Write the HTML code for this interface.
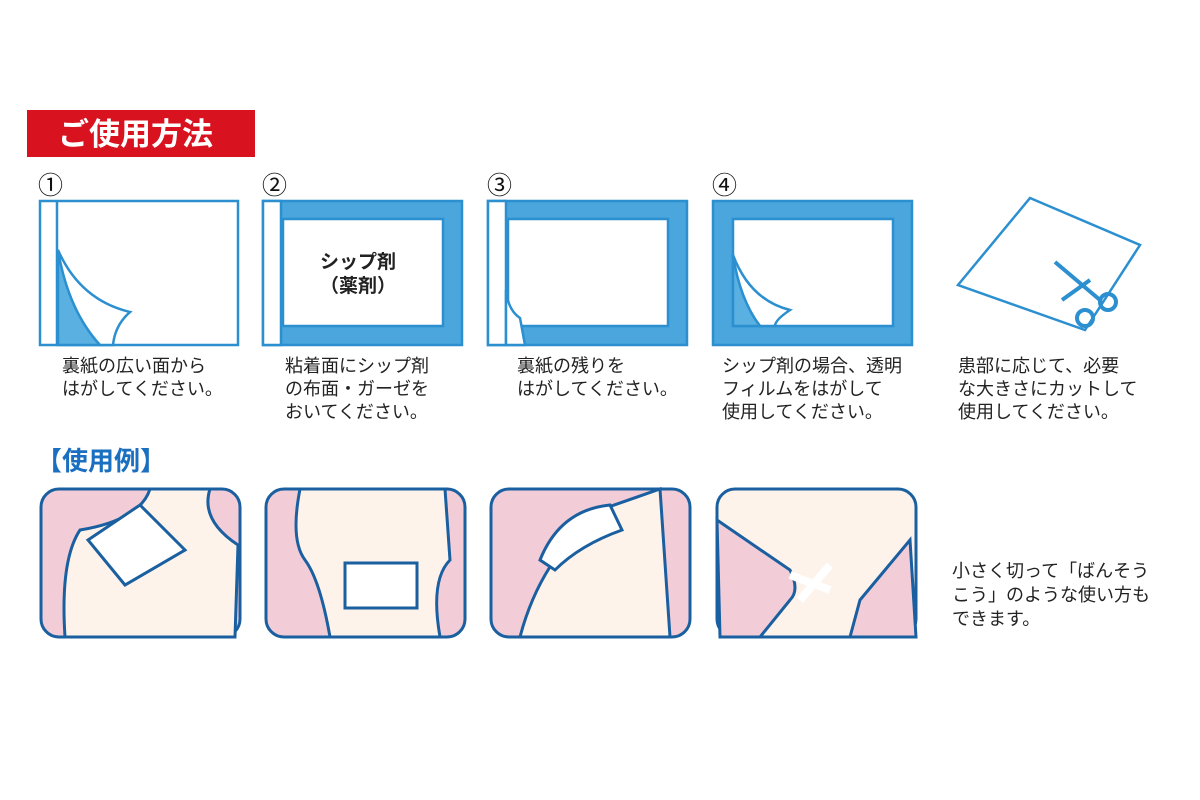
<!DOCTYPE html>
<html><head><meta charset="utf-8"><style>
body{margin:0;background:#fff;}
svg{display:block;}
text{font-family:"Liberation Sans","Noto Sans CJK JP",sans-serif;}
</style></head><body>
<svg width="1200" height="800" viewBox="0 0 1200 800" xmlns="http://www.w3.org/2000/svg">
<rect x="27" y="110" width="228" height="47" fill="#d8121f"/>
<text x="58" y="145" font-size="31" font-weight="bold" fill="#fff">ご使用方法</text>
<g font-size="25" fill="#111">
<text x="38" y="194">①</text><text x="262" y="194">②</text><text x="487" y="194">③</text><text x="712" y="194">④</text>
</g>
<g stroke="#2b8fd0" stroke-width="2.5">
<rect x="40" y="201" width="198" height="144" fill="#fff"/>
<line x1="57" y1="201" x2="57" y2="345"/>
<path d="M58 250 Q80 300 130 312 Q115 325 113 345 L100 345 Q65 320 58 250Z" fill="#fff"/>
<path d="M58 250 Q68 310 100 345 L58 345Z" fill="#5ab0e0"/>
<rect x="263" y="201" width="199" height="144" fill="#4aa6dc"/>
<rect x="283" y="219" width="160" height="107" fill="#fff"/>
<rect x="263" y="201" width="18" height="144" fill="#fff"/>
<rect x="488" y="201" width="199" height="144" fill="#4aa6dc"/>
<rect x="508" y="219" width="160" height="107" fill="#fff"/>
<rect x="488" y="201" width="18" height="144" fill="#fff"/>
<path d="M506 290 Q508 310 520 318 L525 345 L506 345Z" fill="#fff"/>
<rect x="713" y="201" width="199" height="144" fill="#4aa6dc"/>
<rect x="733" y="219" width="160" height="107" fill="#fff"/>
<path d="M733 255 Q750 300 790 310 Q775 320 775 326 L760 326 Q738 300 733 255Z" fill="#fff"/>
<path d="M733 255 Q740 300 760 326 L733 326Z" fill="#5ab0e0"/>
<path d="M1030 198 L1140 245 L1085 330 L958 285Z" fill="#fff"/>
</g>
<g stroke="#2b8fd0" stroke-width="4" fill="none">
<path d="M1055 262 L1100 300"/><path d="M1062 300 L1090 280"/>
<circle cx="1108" cy="302" r="8"/><circle cx="1085" cy="318" r="8"/>
</g>
<text x="320" y="268" font-size="19" font-weight="bold" fill="#222">シップ剤</text>
<text x="320" y="292" font-size="19" font-weight="bold" fill="#222">（薬剤）</text>
<g font-size="18" fill="#222">
<text x="62" y="372">裏紙の広い面から</text><text x="62" y="395">はがしてください。</text>
<text x="285" y="372">粘着面にシップ剤</text><text x="285" y="395">の布面・ガーゼを</text><text x="285" y="418">おいてください。</text>
<text x="517" y="372">裏紙の残りを</text><text x="517" y="395">はがしてください。</text>
<text x="722" y="372">シップ剤の場合、透明</text><text x="722" y="395">フィルムをはがして</text><text x="722" y="418">使用してください。</text>
<text x="958" y="372">患部に応じて、必要</text><text x="958" y="395">な大きさにカットして</text><text x="958" y="418">使用してください。</text>
<text x="952" y="577">小さく切って「ばんそう</text><text x="952" y="601">こう」のような使い方も</text><text x="952" y="625">できます。</text>
</g>
<text x="36" y="470" font-size="26" font-weight="bold" fill="#1a6fc0">【使用例】</text>
<g stroke="#1a5fa0" stroke-width="3">
<rect x="41" y="489" width="199" height="148" rx="18" fill="#f2cdd8"/>
<path d="M150 489 Q140 520 80 530 Q60 560 65 637 L235 637 L238 545 Q200 520 210 489Z" fill="#fdf3ea"/>
<path d="M88 540 L140 505 L185 550 L125 585Z" fill="#fff"/>
<rect x="266" y="489" width="199" height="148" rx="18" fill="#f2cdd8"/>
<path d="M300 489 Q290 540 305 560 Q320 580 330 637 L440 637 Q430 580 450 560 L445 489Z" fill="#fdf3ea"/>
<rect x="345" y="563" width="72" height="45" fill="#fff"/>
<rect x="491" y="489" width="199" height="148" rx="18" fill="#f2cdd8"/>
<path d="M520 637 Q540 560 600 510 L660 489 L670 637Z" fill="#fdf3ea"/>
<path d="M540 560 Q560 510 610 505 L622 530 Q580 545 555 570Z" fill="#fff"/>
<rect x="717" y="489" width="199" height="148" rx="18" fill="#fdf3ea"/>
<path d="M717 520 L790 570 Q800 590 790 600 L760 637 L720 637Z" fill="#f2cdd8"/>
<path d="M850 637 L860 600 L910 540 L916 637Z" fill="#f2cdd8"/>
<path d="M790 575 L830 590 M800 600 L830 565" stroke-width="8" stroke="#fff"/>
</g>
</svg>
</body></html>
